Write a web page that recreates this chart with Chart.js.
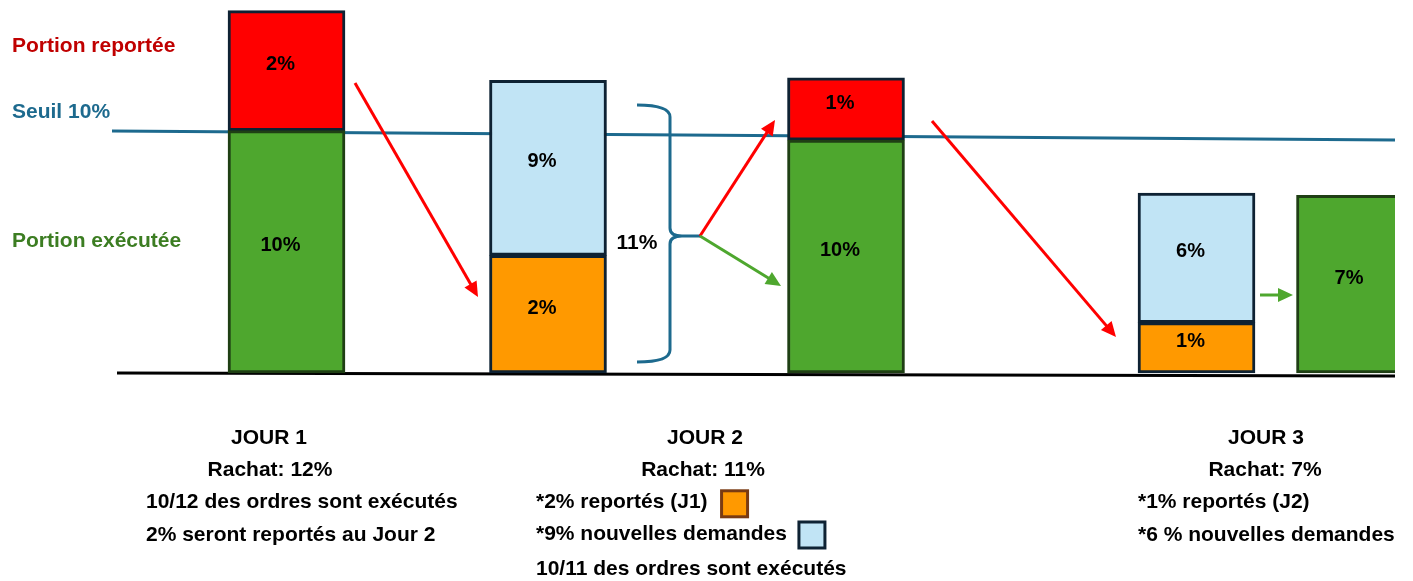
<!DOCTYPE html>
<html lang="fr">
<head>
<meta charset="utf-8">
<title>Rachat : portion exécutée et portion reportée</title>
<script src="https://cdn.jsdelivr.net/npm/chart.js@4.4.1/dist/chart.umd.min.js"></script>
<style>
  html, body { margin: 0; padding: 0; background: #ffffff; }
  #zone { width: 1413px; height: 581px; }
</style>
</head>
<body>
<div id="zone"><canvas id="graphiqueRachat" width="1413" height="581"></canvas></div>
<script>
// Position horizontale de chaque colonne (unités de l'axe x)
const positionsColonnes = [28.65, 54.8, 84.6, 119.65, 135.5];

// Hauteurs dessinées dans le schéma (pas proportionnelles aux %)
const hauteurExecutee  = [10.1, null, 9.7, null, 7.4];
const hauteurReportee  = [5.0, null, 2.6, null, null];
const hauteurReportVeille = [null, 4.9, null, 2.1, null];
const hauteurNouvelles = [null, 7.3, null, 5.4, null];

// Étiquettes inscrites dans les barres
const texteExecutee  = ["10%", "", "10%", "", "7%"];
const texteReportee  = ["2%", "", "1%", "", ""];
const texteReportVeille = ["", "2%", "", "1%", ""];
const texteNouvelles = ["", "9%", "", "6%", ""];

// Ligne "Seuil 10%" et ligne de base
const seuilX = [11.2, 139.5];
const seuilY = [10.08, 9.71];
const baseX = [11.7, 139.5];
const baseY = [0.0, -0.12];

// Flèches : [x1, y1, x2, y2, couleur]
const fleches = [
  [35.5, 12.08, 47.8, 3.17, "#ff0000"],
  [70.0, 5.71, 77.5, 10.54, "#ff0000"],
  [70.0, 5.71, 78.1, 3.63, "#4ea72e"],
  [93.2, 10.5, 111.6, 1.5, "#ff0000"],
  [126.0, 3.25, 129.3, 3.25, "#4ea72e"]
];

// Accolade "11%"
const accolade = { bout: 63.7, haut: 11.17, bas: 0.46, dos: 67.0, pointe: 70.0, milieu: 5.71 };

const police = '"Liberation Sans", Arial, sans-serif';

// Textes libres : [texte, x, y, alignement, couleur]
const textes = [
  ["Portion reportée", 1.2, 13.62, "left", "#c00000"],
  ["Seuil 10%", 1.2, 10.87, "left", "#1d6a8e"],
  ["Portion exécutée", 1.2, 5.5, "left", "#3c7d22"],
  ["11%", 63.7, 5.42, "center", "#000000"],
  ["JOUR 1", 26.9, -2.71, "center", "#000000"],
  ["Rachat: 12%", 27.0, -4.04, "center", "#000000"],
  ["10/12 des ordres sont exécutés", 14.6, -5.4, "left", "#000000"],
  ["2% seront reportés au Jour 2", 14.6, -6.75, "left", "#000000"],
  ["JOUR 2", 70.5, -2.71, "center", "#000000"],
  ["Rachat: 11%", 70.3, -4.04, "center", "#000000"],
  ["*2% reportés (J1)", 53.6, -5.4, "left", "#000000"],
  ["*9% nouvelles demandes", 53.6, -6.7, "left", "#000000"],
  ["10/11 des ordres sont exécutés", 53.6, -8.17, "left", "#000000"],
  ["JOUR 3", 126.6, -2.71, "center", "#000000"],
  ["Rachat: 7%", 126.5, -4.04, "center", "#000000"],
  ["*1% reportés (J2)", 113.8, -5.4, "left", "#000000"],
  ["*6 % nouvelles demandes", 113.8, -6.75, "left", "#000000"]
];

function points(xs, ys) {
  return xs.map((x, i) => ({ x: x, y: ys[i] }));
}

function serieBarre(hauteurs, fond, bord) {
  return {
    type: "bar",
    data: positionsColonnes.map((x, i) => ({ x: x, y: hauteurs[i] })),
    backgroundColor: fond,
    borderColor: bord,
    borderWidth: 3,
    borderSkipped: false,
    barThickness: 117,
    order: 1
  };
}

function dessinerFleche(ctx, x1, y1, x2, y2, couleur) {
  const ang = Math.atan2(y2 - y1, x2 - x1);
  const L = 15, W = 7;
  ctx.strokeStyle = couleur;
  ctx.fillStyle = couleur;
  ctx.lineWidth = 3;
  ctx.beginPath();
  ctx.moveTo(x1, y1);
  ctx.lineTo(x2 - L * 0.8 * Math.cos(ang), y2 - L * 0.8 * Math.sin(ang));
  ctx.stroke();
  ctx.beginPath();
  ctx.moveTo(x2, y2);
  ctx.lineTo(x2 - L * Math.cos(ang) + W * Math.sin(ang), y2 - L * Math.sin(ang) - W * Math.cos(ang));
  ctx.lineTo(x2 - L * Math.cos(ang) - W * Math.sin(ang), y2 - L * Math.sin(ang) + W * Math.cos(ang));
  ctx.closePath();
  ctx.fill();
}

// Plugin : étiquettes, flèches, accolade, textes
const annotations = {
  id: "annotations",
  afterDatasetsDraw(chart) {
    const ctx = chart.ctx;
    const sx = chart.scales.x, sy = chart.scales.y;
    const px = v => sx.getPixelForValue(v);
    const py = v => sy.getPixelForValue(v);
    const zone = chart.chartArea;

    ctx.save();
    ctx.beginPath();
    ctx.rect(0, 0, zone.right, chart.height);
    ctx.clip();

    // étiquettes des barres
    const etiquettes = [texteExecutee, texteReportVeille, texteReportee, texteNouvelles];
    ctx.font = "bold 20px " + police;
    ctx.fillStyle = "#000000";
    ctx.textAlign = "center";
    ctx.textBaseline = "middle";
    etiquettes.forEach((liste, d) => {
      const meta = chart.getDatasetMeta(d);
      meta.data.forEach((barre, i) => {
        if (!liste[i]) return;
        ctx.fillText(liste[i], barre.x - 6, (barre.y + barre.base) / 2 - 6);
      });
    });

    // accolade
    const a = accolade;
    const xe = px(a.bout), xs = px(a.dos), xt = px(a.pointe);
    const yt = py(a.haut), yb = py(a.bas), ym = py(a.milieu);
    ctx.strokeStyle = "#1d6a8e";
    ctx.lineWidth = 3;
    ctx.beginPath();
    ctx.moveTo(xe, yt);
    ctx.quadraticCurveTo(xs, yt, xs, yt + 12);
    ctx.lineTo(xs, ym - 8);
    ctx.quadraticCurveTo(xs, ym, xs + 12, ym);
    ctx.lineTo(xt, ym);
    ctx.moveTo(xs + 12, ym);
    ctx.quadraticCurveTo(xs, ym, xs, ym + 8);
    ctx.lineTo(xs, yb - 12);
    ctx.quadraticCurveTo(xs, yb, xe, yb);
    ctx.stroke();

    // flèches
    fleches.forEach(f => dessinerFleche(ctx, px(f[0]), py(f[1]), px(f[2]), py(f[3]), f[4]));

    // textes
    ctx.font = "bold 21px " + police;
    ctx.textBaseline = "middle";
    textes.forEach(t => {
      ctx.textAlign = t[3];
      ctx.fillStyle = t[4];
      ctx.fillText(t[0], px(t[1]), py(t[2]));
    });

    // petits carrés de légende du jour 2
    const carre = (texte, y, fond, bord, ecart, cote) => {
      const x0 = px(53.6) + ctx.measureText(texte).width + ecart;
      const y0 = py(y) - cote / 2;
      ctx.fillStyle = fond;
      ctx.fillRect(x0, y0, cote, cote);
      ctx.strokeStyle = bord;
      ctx.lineWidth = 3;
      ctx.strokeRect(x0, y0, cote, cote);
    };
    carre("*2% reportés (J1)", -5.45, "#ff9900", "#7a3b12", 14, 26);
    carre("*9% nouvelles demandes", -6.75, "#c1e4f5", "#0e2233", 12, 26);

    ctx.restore();
  }
};

new Chart(document.getElementById("graphiqueRachat"), {
  data: {
    datasets: [
      serieBarre(hauteurExecutee, "#4ea72e", "#1f3f14"),
      serieBarre(hauteurReportVeille, "#ff9900", "#0e2233"),
      serieBarre(hauteurReportee, "#ff0000", "#0e2233"),
      serieBarre(hauteurNouvelles, "#c1e4f5", "#0e2233"),
      {
        type: "line",
        data: points(seuilX, seuilY),
        borderColor: "#1d6a8e",
        borderWidth: 3,
        pointRadius: 0,
        stack: "seuil",
        order: 5
      },
      {
        type: "line",
        data: points(baseX, baseY),
        borderColor: "#000000",
        borderWidth: 3,
        pointRadius: 0,
        stack: "base",
        order: 5
      }
    ]
  },
  options: {
    responsive: false,
    animation: false,
    devicePixelRatio: 1,
    layout: { padding: { left: 0, right: 18, top: 0, bottom: 0 } },
    plugins: { legend: { display: false }, tooltip: { enabled: false } },
    scales: {
      x: { type: "linear", min: 0, max: 139.5, offset: false, display: false, stacked: true },
      y: { type: "linear", min: -8.667, max: 15.542, display: false, stacked: true }
    }
  },
  plugins: [annotations]
});
</script>
</body>
</html>
